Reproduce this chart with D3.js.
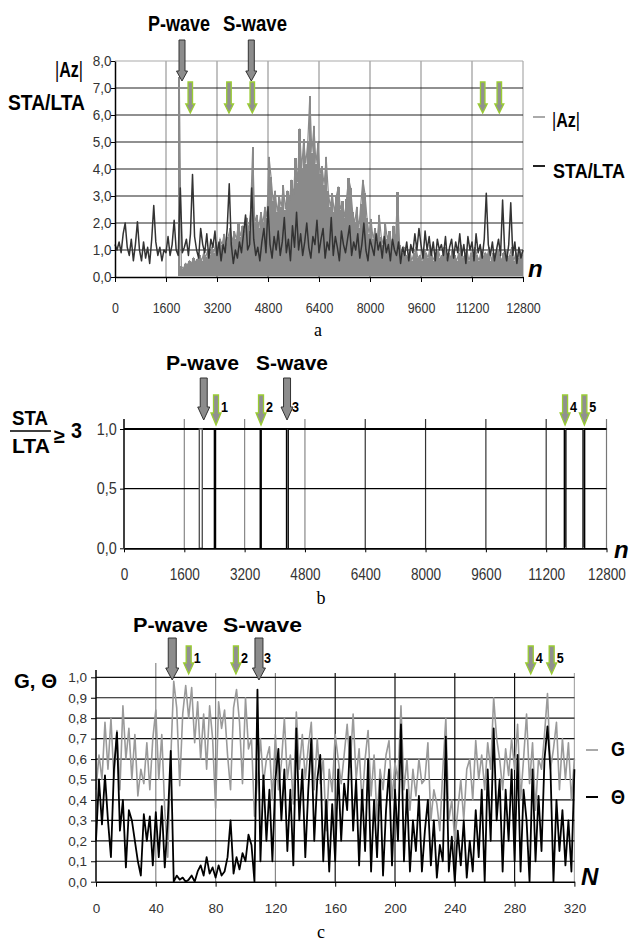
<!DOCTYPE html>
<html><head><meta charset="utf-8">
<script src="https://cdn.jsdelivr.net/npm/d3@7"></script>
<style>body{margin:0;background:#fff}svg{display:block}</style>
</head><body>
<script>
// ---------------- DATA ----------------
// Panel a
const aXTicks = [0,1600,3200,4800,6400,8000,9600,11200,12800];
const aYTicks = [0,1,2,3,4,5,6,7,8];
const aYTickLabels = ["0,0","1,0","2,0","3,0","4,0","5,0","6,0","7,0","8,0"];
const staLtaStep = 64; // samples n = i*64
const staLta = [
1.2,1.0,1.3,0.9,1.6,2.0,1.1,0.8,1.4,0.6,
1.2,2.05,1.0,0.6,1.3,0.7,1.1,0.5,1.4,2.65,
1.3,0.8,1.1,0.6,1.0,0.9,1.5,0.8,1.2,2.1,
1.0,0.8,3.3,0.9,1.1,1.4,0.8,1.6,3.8,1.5,
1.0,0.7,1.8,1.2,0.9,1.6,0.7,1.4,1.1,1.7,
0.8,1.3,0.6,1.2,0.9,1.8,3.45,1.2,0.5,1.0,
0.7,1.3,0.9,1.6,2.3,1.0,1.2,3.3,1.4,0.8,
1.1,0.6,1.3,1.8,0.9,2.6,1.2,0.7,1.5,1.0,
1.7,0.8,1.3,2.2,0.9,1.4,0.6,1.9,1.1,2.4,
1.0,1.6,0.8,1.3,2.0,1.1,0.7,1.5,1.2,2.1,
0.9,1.4,1.8,0.7,1.3,1.0,2.2,0.8,1.5,1.1,
0.6,1.7,1.2,0.9,1.4,1.9,0.8,1.3,1.0,1.6,
0.7,1.2,2.0,1.0,0.6,1.4,1.1,0.8,1.6,1.0,
1.3,0.7,1.5,0.9,1.2,0.6,1.4,1.0,0.8,1.3,
0.5,1.1,0.8,1.3,0.6,1.2,0.9,1.6,1.0,1.8,
1.2,0.7,1.7,1.0,1.5,0.8,1.3,0.6,1.4,1.0,
1.2,0.8,1.5,0.6,1.1,1.4,0.7,1.3,0.9,1.6,
0.8,1.2,0.5,1.5,1.0,1.3,0.6,1.6,0.9,1.2,
0.7,1.4,3.1,1.2,0.8,1.3,0.6,1.0,1.4,0.8,
2.85,1.0,0.6,1.2,2.75,0.8,1.3,0.5,1.1,0.7,1.0
];
const azStart = 2016, azStep = 64; // |Az| samples n = azStart + i*azStep
const azAbs = [
7.4,
0.4,0.3,0.5,0.45,0.6,0.5,0.7,0.55,0.65,0.8,0.6,0.9,0.75,1.0,0.8,
1.1,0.9,1.3,1.0,1.4,1.2,1.6,1.1,1.5,1.8,1.3,1.7,1.4,2.0,1.5,1.9,
1.6,2.2,1.7,2.5,4.8,2.0,2.3,1.8,2.4,2.0,2.6,2.2,4.45,3.7,2.8,3.2,
2.4,3.0,2.6,3.4,2.5,3.2,2.8,3.6,3.0,4.4,3.5,5.5,4.0,5.1,4.2,5.0,
6.7,4.6,5.6,4.2,4.95,3.8,4.1,3.4,4.45,3.2,2.6,3.1,2.4,3.0,3.35,2.5,
2.8,2.2,2.9,3.65,3.3,2.4,2.0,2.6,1.8,2.7,3.6,3.1,2.2,1.6,2.15,1.4,
1.8,1.3,2.3,1.5,1.2,2.0,1.4,1.7,1.1,1.9,1.3,3.15,1.2,0.9,1.1,
0.8,0.7,1.0,0.6,0.9,1.1,0.7,0.8,0.6,1.0,
0.9,0.7,1.2,0.8,0.6,0.9,1.0,0.7,0.8,1.1,
0.6,0.9,0.7,1.0,0.8,0.6,0.9,1.2,0.7,0.8,
1.0,0.6,0.9,0.7,1.1,0.8,0.6,1.0,0.7,0.9,
0.8,1.1,0.6,0.9,0.7,1.0,0.8,0.6,0.9,1.0,
0.7,0.8,1.1,0.6,0.9,0.7,1.0,0.8
];
const aBigArrows = [2102, 4276];              // P-wave, S-wave (n)
const aGreenArrows = [2362, 3576, 4307, 11536, 12057];

// Panel b
const bXTicks = [0,1600,3200,4800,6400,8000,9600,11200,12800];
const bYTicks = [0,0.5,1];
const bYTickLabels = ["0,0","0,5","1,0"];
const bDetections = [[1998,2077],[2398,2428],[3614,3640],[4312,4356],[11682,11722],[12178,12220]];
const bBigArrows = [2115, 4325];
const bGreenArrows = [2441, 3635, 11701, 12213];
const bArrowNums = [["1",2441],["2",3635],["3",4325],["4",11701],["5",12213]];

// Panel c
const cXTicks = [0,40,80,120,160,200,240,280,320];
const cYTicks = [0,0.1,0.2,0.3,0.4,0.5,0.6,0.7,0.8,0.9,1.0];
const cYTickLabels = ["0,0","0,1","0,2","0,3","0,4","0,5","0,6","0,7","0,8","0,9","1,0"];
const cStep = 2; // N = i*2
const gVals = [
0.45,0.62,0.5,0.78,0.55,0.8,0.5,0.74,0.45,0.86,
0.6,0.75,0.5,0.72,0.42,0.55,0.48,0.68,0.45,0.7,
0.84,0.5,0.72,0.35,0.12,0.6,0.98,0.85,0.47,0.82,
0.96,0.8,0.95,0.68,0.88,0.6,0.82,0.55,0.86,0.7,
0.36,0.88,0.75,0.84,0.62,0.45,0.85,0.94,0.78,0.48,
0.9,0.65,0.7,0.32,0.5,0.7,0.48,0.6,0.66,0.4,
0.72,0.45,0.58,0.8,0.5,0.62,0.38,0.83,0.55,0.72,
0.5,0.66,0.78,0.45,0.7,0.48,0.6,0.25,0.55,0.44,
0.72,0.6,0.48,0.62,0.77,0.56,0.82,0.5,0.65,0.38,
0.6,0.74,0.42,0.62,0.3,0.55,0.45,0.62,0.69,0.4,
0.58,0.5,0.86,0.45,0.6,0.35,0.55,0.42,0.6,0.48,
0.5,0.68,0.3,0.45,0.38,0.25,0.55,0.8,0.3,0.4,
0.2,0.35,0.5,0.3,0.55,0.6,0.4,0.69,0.5,0.62,
0.45,0.68,0.55,0.9,0.7,0.6,0.45,0.65,0.52,0.7,
0.55,0.77,0.4,0.6,0.82,0.48,0.68,0.35,0.6,0.55,
0.72,0.92,0.55,0.65,0.78,0.45,0.7,0.5,0.68,0.4,
0.6
];
const thetaVals = [
0.2,0.5,0.28,0.52,0.3,0.12,0.55,0.73,0.25,0.4,
0.07,0.35,0.3,0.2,0.1,0.03,0.33,0.2,0.32,0.08,
0.34,0.12,0.37,0.07,0.3,0.64,0.0,0.03,0.01,0.02,
0.0,0.01,0.03,0.0,0.05,0.08,0.03,0.12,0.04,0.07,
0.02,0.08,0.03,0.05,0.12,0.3,0.04,0.12,0.06,0.14,
0.1,0.23,0.18,0.0,0.94,0.1,0.52,0.2,0.45,0.1,
0.5,0.65,0.3,0.55,0.15,0.45,0.08,0.75,0.3,0.55,
0.12,0.45,0.7,0.2,0.5,0.62,0.1,0.4,0.05,0.38,
0.1,0.55,0.2,0.48,0.35,0.71,0.25,0.5,0.08,0.45,
0.15,0.6,0.05,0.4,0.12,0.5,0.03,0.35,0.55,0.08,
0.45,0.2,0.77,0.1,0.45,0.05,0.3,0.15,0.42,0.05,
0.25,0.4,0.08,0.3,0.02,0.18,0.1,0.71,0.05,0.22,
0.0,0.25,0.08,0.3,0.02,0.2,0.05,0.35,0.12,0.45,
0.0,0.55,0.2,0.75,0.3,0.5,0.05,0.45,0.2,0.55,
0.1,0.62,0.05,0.45,0.3,0.0,0.55,0.1,0.42,0.15,
0.6,0.76,0.55,0.0,0.4,0.15,0.35,0.08,0.3,0.05,
0.55
];
const cBigArrows = [51.0, 109.0];
const cGreenArrows = [62.0, 93.6, 290.8, 304.8];
const cArrowNums = [["1",62.0],["2",93.6],["3",109.0],["4",290.8],["5",304.8]];

// ---------------- DRAWING ----------------
const W = 632, H = 942;
const SANS = "'Liberation Sans',Arial,sans-serif";
const SERIF = "'Liberation Serif','Times New Roman',serif";
const GREEN = "#9acd32";
const svg = d3.select("body").append("svg").attr("width", W).attr("height", H);

function arrow(g, cx, yTop, yHead, yTip, shaftW, headW, fill, stroke, sw) {
  const p = d3.path();
  p.moveTo(cx - shaftW/2, yTop);
  p.lineTo(cx + shaftW/2, yTop);
  p.lineTo(cx + shaftW/2, yHead);
  p.lineTo(cx + headW/2, yHead);
  p.lineTo(cx, yTip);
  p.lineTo(cx - headW/2, yHead);
  p.lineTo(cx - shaftW/2, yHead);
  p.closePath();
  g.append("path").attr("d", p.toString()).attr("fill", fill).attr("stroke", stroke).attr("stroke-width", sw);
}
// horizontally fit a text to a given width with a transform (start-anchored)
function fit(t, x, y, len) {
  if (len) {
    const nat = t.node().getComputedTextLength();
    t.attr("x", 0).attr("y", 0).attr("transform", `translate(${x},${y}) scale(${len / nat},1)`);
  }
  return t;
}
function txt(g, x, y, s, size, opts = {}) {
  const t = g.append("text").attr("x", x).attr("y", y).text(s)
    .attr("font-family", opts.family || SANS).attr("font-size", size)
    .attr("font-weight", opts.weight || "bold").attr("font-style", opts.style || "normal")
    .attr("fill", opts.fill || "#000").attr("text-anchor", opts.anchor || "start");
  return fit(t, x, y, opts.len);
}
function absLabel(g, x, y, size, len) {
  const t = g.append("text").attr("font-family", SANS).attr("font-size", size).attr("font-weight", "bold");
  t.append("tspan").attr("font-weight", "normal").text("|");
  t.append("tspan").text("Az");
  t.append("tspan").attr("font-weight", "normal").text("|");
  return fit(t, x, y, len);
}

// ===== Panel a =====
{
  const xa = d3.scaleLinear([0, 12800], [115, 523]);
  const ya = d3.scaleLinear([0, 8], [277, 61]);
  const g = svg.append("g");
  g.selectAll("line.vg").data(aXTicks.slice(1)).join("line")
    .attr("x1", d => xa(d)).attr("x2", d => xa(d)).attr("y1", ya(0)).attr("y2", ya(8))
    .attr("stroke", d => d === 12800 ? "#aaa" : "#999").attr("stroke-width", 1.2);
  g.selectAll("line.hg").data(aYTicks.slice(1)).join("line")
    .attr("x1", xa(0)).attr("x2", xa(12800)).attr("y1", d => ya(d)).attr("y2", d => ya(d))
    .attr("stroke", d => d === 8 ? "#aaa" : "#222").attr("stroke-width", 1.2);
  // |Az| samples: stems + line through tops
  g.selectAll("line.az").data(azAbs).join("line")
    .attr("x1", (d, i) => xa(azStart + i * azStep)).attr("x2", (d, i) => xa(azStart + i * azStep))
    .attr("y1", ya(0.02)).attr("y2", d => ya(d))
    .attr("stroke", "#8a8a8a").attr("stroke-width", 2.3).attr("shape-rendering", "crispEdges");
  g.append("path").datum(azAbs)
    .attr("d", d3.line().x((d, i) => xa(azStart + i * azStep)).y(d => ya(d)))
    .attr("fill", "none").attr("stroke", "#8a8a8a").attr("stroke-width", 1.2);
  g.append("path").datum(staLta)
    .attr("d", d3.line().x((d, i) => xa(i * staLtaStep)).y(d => ya(d)))
    .attr("fill", "none").attr("stroke", "#333").attr("stroke-width", 1.5).attr("stroke-linejoin", "round");
  const ax = g.append("g").attr("transform", `translate(0,${ya(0)})`)
    .call(d3.axisBottom(xa).tickValues(aXTicks).tickFormat(d3.format("d")).tickSize(5).tickSizeOuter(0));
  ax.select(".domain").attr("stroke", "#000").attr("stroke-width", 1.5);
  ax.selectAll(".tick line").attr("stroke", "#000");
  ax.selectAll(".tick text").attr("y", 36).attr("dy", null).attr("font-family", SANS).attr("font-size", 15)
    .attr("fill", "#333").attr("transform", "scale(0.83,1)");
  const ay = g.append("g").attr("transform", `translate(${xa(0)},0)`)
    .call(d3.axisLeft(ya).tickValues(aYTicks).tickFormat((d, i) => aYTickLabels[i]).tickSize(4).tickSizeOuter(0));
  ay.select(".domain").attr("stroke", "#000").attr("stroke-width", 1.5);
  ay.selectAll(".tick line").attr("stroke", "#000");
  ay.selectAll(".tick text").attr("x", -4).attr("font-family", SANS).attr("font-size", 15)
    .attr("fill", "#333").attr("transform", "scale(0.9,1)");
  aBigArrows.forEach(n => arrow(g, xa(n), 40, 71, 81, 6, 11, "#8c8c8c", "#333", 1));
  aGreenArrows.forEach(n => arrow(g, xa(n), 82, 104, 113, 4.5, 9, "#909090", GREEN, 1.3));
  txt(g, 148, 31, "P-wave", 22, { len: 62 });
  txt(g, 223, 31, "S-wave", 22, { len: 64 });
  absLabel(g, 55, 77, 22, 28);
  txt(g, 8, 110, "STA/LTA", 22, { len: 77 });
  txt(g, 528, 277, "n", 24, { style: "italic" });
  txt(g, 318, 336, "a", 18, { family: SERIF, weight: "normal", anchor: "middle" });
  g.append("line").attr("x1", 533).attr("x2", 545).attr("y1", 117).attr("y2", 117).attr("stroke", "#aaa").attr("stroke-width", 2);
  absLabel(g, 552, 127, 21, 28);
  g.append("line").attr("x1", 533).attr("x2", 545).attr("y1", 166).attr("y2", 166).attr("stroke", "#222").attr("stroke-width", 2);
  txt(g, 553, 178, "STA/LTA", 21, { len: 72 });
}

// ===== Panel b =====
{
  const xb = d3.scaleLinear([0, 12800], [124, 606.5]);
  const yb = d3.scaleLinear([0, 1], [548.3, 429]);
  const yTop = 419;
  const g = svg.append("g");
  g.selectAll("line.vg").data(bXTicks.slice(1)).join("line")
    .attr("x1", d => xb(d)).attr("x2", d => xb(d)).attr("y1", yb(0)).attr("y2", yTop)
    .attr("stroke", d => (d <= 4800 ? "#888" : (d === 12800 ? "#777" : "#333"))).attr("stroke-width", 1.2);
  g.selectAll("line.hg").data(bYTicks.slice(1)).join("line")
    .attr("x1", xb(0)).attr("x2", xb(12800)).attr("y1", d => yb(d)).attr("y2", d => yb(d))
    .attr("stroke", "#000").attr("stroke-width", d => d === 1 ? 2 : 1.2);
  g.selectAll("rect.det").data(bDetections).join("rect")
    .attr("x", d => xb(d[0])).attr("width", d => xb(d[1]) - xb(d[0]))
    .attr("y", yb(1)).attr("height", yb(0) - yb(1))
    .attr("fill", "#fff").attr("stroke", (d, i) => i === 0 ? "#555" : "#000").attr("stroke-width", 1.4);
  const ax = g.append("g").attr("transform", `translate(0,${yb(0)})`)
    .call(d3.axisBottom(xb).tickValues(bXTicks).tickFormat(d3.format("d")).tickSize(4).tickSizeOuter(0));
  ax.select(".domain").attr("stroke", "#000").attr("stroke-width", 1.8);
  ax.selectAll(".tick line").attr("stroke", "#000");
  ax.selectAll(".tick text").attr("y", 32).attr("dy", null).attr("font-family", SANS).attr("font-size", 16)
    .attr("fill", "#333").attr("transform", "scale(0.85,1)");
  const ay = g.append("g").attr("transform", `translate(${xb(0)},0)`)
    .call(d3.axisLeft(yb).tickValues(bYTicks).tickFormat((d, i) => bYTickLabels[i]).tickSize(4).tickSizeOuter(0));
  ay.select(".domain").attr("d", `M0,${yTop}V${yb(0)}`).attr("stroke", "#000").attr("stroke-width", 1.5);
  ay.selectAll(".tick line").attr("stroke", "#000");
  ay.selectAll(".tick text").attr("x", -8).attr("font-family", SANS).attr("font-size", 16)
    .attr("fill", "#333").attr("transform", "scale(0.9,1)");
  bBigArrows.forEach(n => arrow(g, xb(n), 378, 407, 420, 7, 12, "#8c8c8c", "#333", 1));
  bGreenArrows.forEach(n => arrow(g, xb(n), 395, 413, 425, 5, 10, "#909090", GREEN, 1.3));
  bArrowNums.forEach(([s, n]) => txt(g, xb(n) + 5, 412, s, 14, { len: 7 }));
  txt(g, 166, 370, "P-wave", 21, { len: 73 });
  txt(g, 256, 370, "S-wave", 21, { len: 72 });
  txt(g, 12, 425, "STA", 20, { len: 36 });
  g.append("line").attr("x1", 10).attr("x2", 51).attr("y1", 431).attr("y2", 431).attr("stroke", "#000").attr("stroke-width", 1.5);
  txt(g, 12, 453, "LTA", 20, { len: 38 });
  txt(g, 54, 443, "≥", 20, { len: 11 });
  txt(g, 71, 438, "3", 22, { len: 11 });
  txt(g, 614, 558, "n", 24, { style: "italic" });
  txt(g, 321, 604, "b", 18, { family: SERIF, weight: "normal", anchor: "middle" });
}

// ===== Panel c =====
{
  const xc = d3.scaleLinear([0, 320], [96, 574.4]);
  const yc = d3.scaleLinear([0, 1], [881.7, 677.3]);
  const yTop = 673;
  const g = svg.append("g");
  g.selectAll("line.vg").data(cXTicks.slice(1)).join("line")
    .attr("x1", d => xc(d)).attr("x2", d => xc(d)).attr("y1", yc(0)).attr("y2", d => d === 40 ? 663 : yTop)
    .attr("stroke", d => (d <= 120 ? "#888" : (d === 320 ? "#aaa" : "#111"))).attr("stroke-width", 1.2);
  g.selectAll("line.hg").data(cYTicks.slice(1)).join("line")
    .attr("x1", xc(0)).attr("x2", xc(320)).attr("y1", d => yc(d)).attr("y2", d => yc(d))
    .attr("stroke", "#111").attr("stroke-width", 1.2);
  g.append("path").datum(gVals)
    .attr("d", d3.line().x((d, i) => xc(i * cStep)).y(d => yc(d)))
    .attr("fill", "none").attr("stroke", "#9a9a9a").attr("stroke-width", 1.6).attr("stroke-linejoin", "round");
  g.append("path").datum(thetaVals)
    .attr("d", d3.line().x((d, i) => xc(i * cStep)).y(d => yc(d)))
    .attr("fill", "none").attr("stroke", "#000").attr("stroke-width", 1.8).attr("stroke-linejoin", "round");
  const ax = g.append("g").attr("transform", `translate(0,${yc(0)})`)
    .call(d3.axisBottom(xc).tickValues(cXTicks).tickFormat(d3.format("d")).tickSize(5).tickSizeOuter(0));
  ax.select(".domain").attr("stroke", "#000").attr("stroke-width", 1.5);
  ax.selectAll(".tick line").attr("stroke", "#000");
  ax.selectAll(".tick text").attr("y", 31).attr("dy", null).attr("font-family", SANS).attr("font-size", 13.5).attr("fill", "#333");
  const ay = g.append("g").attr("transform", `translate(${xc(0)},0)`)
    .call(d3.axisLeft(yc).tickValues(cYTicks).tickFormat((d, i) => cYTickLabels[i]).tickSize(5).tickSizeOuter(0));
  ay.select(".domain").attr("d", `M0,${yTop - 3}V${yc(0)}`).attr("stroke", "#000").attr("stroke-width", 1.5);
  ay.selectAll(".tick line").attr("stroke", "#000");
  ay.selectAll(".tick text").attr("x", -9).attr("font-family", SANS).attr("font-size", 13.5).attr("fill", "#333");
  cBigArrows.forEach(n => arrow(g, xc(n), 638, 668, 680, 8, 13, "#8c8c8c", "#333", 1));
  cGreenArrows.forEach(n => arrow(g, xc(n), 646, 663, 674, 5, 10, "#909090", GREEN, 1.3));
  cArrowNums.forEach(([s, n]) => txt(g, xc(n) + 5, 663, s, 14, { len: 7 }));
  txt(g, 133, 632, "P-wave", 20, { len: 75 });
  txt(g, 223, 632, "S-wave", 20, { len: 79 });
  txt(g, 14, 688, "G, Θ", 20, { len: 43 });
  g.append("line").attr("x1", 586).attr("x2", 598).attr("y1", 750).attr("y2", 750).attr("stroke", "#aaa").attr("stroke-width", 2);
  txt(g, 611, 756, "G", 21, { len: 14 });
  g.append("line").attr("x1", 586).attr("x2", 598).attr("y1", 797).attr("y2", 797).attr("stroke", "#000").attr("stroke-width", 2);
  txt(g, 611, 804, "Θ", 21, { len: 14 });
  txt(g, 581, 885, "N", 24, { style: "italic" });
  txt(g, 321, 938, "c", 18, { family: SERIF, weight: "normal", anchor: "middle" });
}
</script>
</body></html>
